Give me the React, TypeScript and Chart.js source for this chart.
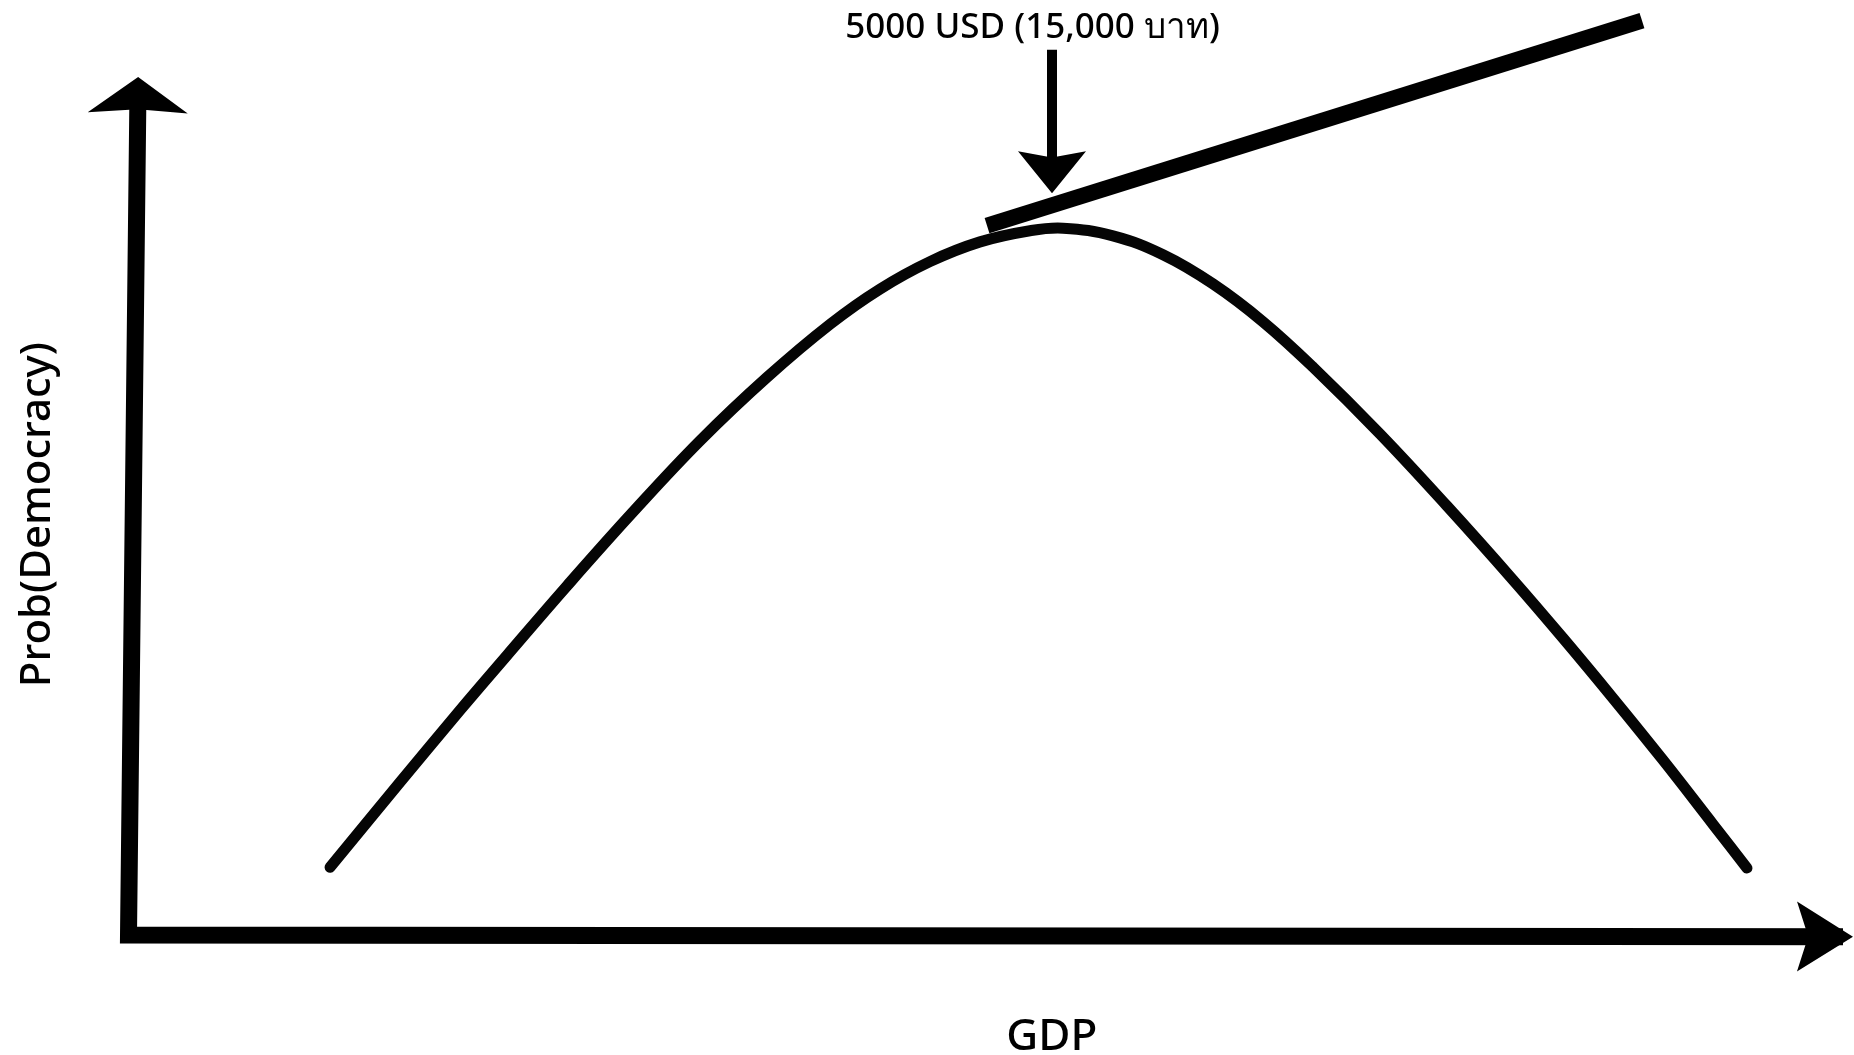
import React, { useEffect, useRef } from "react";
import { Chart, registerables } from "chart.js";

Chart.register(...registerables);

// ---- Data ----
// Bell-shaped curve: GDP (USD) vs probability of democracy
const CURVE_GDP = [1098, 1479, 1806, 2062, 2389, 2748, 3113, 3478, 3822, 4094, 4366, 4639, 4911, 5091, 5363, 5636, 5908, 6180, 6453, 6818, 7183, 7542, 7815, 8087, 8359, 8632, 8817];
const CURVE_PROB = [0.079, 0.178, 0.262, 0.326, 0.407, 0.493, 0.576, 0.650, 0.712, 0.753, 0.785, 0.808, 0.821, 0.824, 0.815, 0.793, 0.759, 0.715, 0.662, 0.584, 0.500, 0.414, 0.346, 0.276, 0.204, 0.129, 0.078];

// Axes polyline: top of y-axis -> origin -> right end of x-axis
const AXES_GDP = [52, 0, 9340];
const AXES_PROB = [0.991, 0, -0.002];

// Pointer arrow at the 5000 USD threshold
const POINTER_GDP = [5031, 5031];
const POINTER_PROB = [1.032, 0.874];

// Straight rising line from the peak
const RISE_GDP = [4677, 8245];
const RISE_PROB = [0.827, 1.066];

// Scale ranges
const X_RANGE = [-700, 9400];
const Y_RANGE = [-0.14, 1.09];

// Texts
const POINTER_LABEL = "5000 USD (15,000 บาท)";
const X_TITLE = "GDP";
const Y_TITLE = "Prob(Democracy)";

const zip = (xs: number[], ys: number[]) => xs.map((x, i) => ({ x, y: ys[i] }));

const arrowHeadPlugin = {
  id: "arrowHeads",
  afterDatasetsDraw(chart: any) {
    const ctx = chart.ctx;
    chart.data.datasets.forEach((ds: any, i: number) => {
      if (!ds.arrowHeads) return;
      const pts = chart.getDatasetMeta(i).data;
      const n = pts.length;
      ds.arrowHeads.forEach((h: any) => {
        const a = h.at === "end" ? pts[n - 2] : pts[1];
        const b = h.at === "end" ? pts[n - 1] : pts[0];
        const dx = b.x - a.x;
        const dy = b.y - a.y;
        const L = Math.hypot(dx, dy) || 1;
        const ux = dx / L;
        const uy = dy / L;
        const px = -uy;
        const py = ux;
        const tx = b.x + ux * h.over;
        const ty = b.y + uy * h.over;
        const bx = tx - ux * h.len;
        const by = ty - uy * h.len;
        const nx = tx - ux * h.len * h.notch;
        const ny = ty - uy * h.len * h.notch;
        ctx.save();
        ctx.fillStyle = "#000";
        ctx.beginPath();
        ctx.moveTo(tx, ty);
        ctx.lineTo(bx + px * h.half, by + py * h.half);
        ctx.lineTo(nx, ny);
        ctx.lineTo(bx - px * h.half, by - py * h.half);
        ctx.closePath();
        ctx.fill();
        ctx.restore();
      });
    });
  },
};

const textPlugin = {
  id: "labels",
  afterDraw(chart: any) {
    const ctx = chart.ctx;
    const xs = chart.scales.x;
    const ys = chart.scales.y;
    ctx.save();
    ctx.fillStyle = "#000";
    ctx.textAlign = "center";
    ctx.textBaseline = "alphabetic";
    // pointer label
    ctx.font = '500 35px "Noto Sans", "Open Sans", sans-serif';
    ctx.fillText(POINTER_LABEL, xs.getPixelForValue(4925), 38);
    // x title
    ctx.font = '500 44px "Noto Sans", "Open Sans", sans-serif';
    ctx.fillText(X_TITLE, xs.getPixelForValue(5030), 1050);
    // y title
    ctx.font = '500 42px "Noto Sans", "Open Sans", sans-serif';
    ctx.translate(50, ys.getPixelForValue(0.49));
    ctx.rotate(-Math.PI / 2);
    ctx.fillText(Y_TITLE, 0, 0);
    ctx.restore();
  },
};

export default function App() {
  const ref = useRef<HTMLCanvasElement | null>(null);

  useEffect(() => {
    if (!ref.current) return;
    const chart = new Chart(ref.current, {
      type: "scatter",
      data: {
        datasets: [
          {
            label: "curve",
            data: zip(CURVE_GDP, CURVE_PROB),
            showLine: true,
            borderColor: "#050505",
            borderWidth: 11,
            borderCapStyle: "round",
            borderJoinStyle: "round",
            tension: 0.4,
            pointRadius: 0,
            fill: false,
            clip: false,
          } as any,
          {
            label: "axes",
            data: zip(AXES_GDP, AXES_PROB),
            showLine: true,
            borderColor: "#000",
            borderWidth: 17,
            borderCapStyle: "butt",
            borderJoinStyle: "miter",
            tension: 0,
            pointRadius: 0,
            fill: false,
            clip: false,
            arrowHeads: [
              { at: "start", len: 36, half: 50, over: 8, notch: 0.9 },
              { at: "end", len: 56, half: 35, over: 10, notch: 0.8 },
            ],
          } as any,
          {
            label: "pointer",
            data: zip(POINTER_GDP, POINTER_PROB),
            showLine: true,
            borderColor: "#000",
            borderWidth: 10,
            borderCapStyle: "butt",
            tension: 0,
            pointRadius: 0,
            fill: false,
            clip: false,
            arrowHeads: [{ at: "end", len: 42, half: 34, over: 8, notch: 0.85 }],
          } as any,
          {
            label: "rise",
            data: zip(RISE_GDP, RISE_PROB),
            showLine: true,
            borderColor: "#000",
            borderWidth: 16,
            borderCapStyle: "butt",
            tension: 0,
            pointRadius: 0,
            fill: false,
            clip: false,
          } as any,
        ],
      },
      options: {
        responsive: false,
        animation: false,
        devicePixelRatio: 1,
        layout: { padding: 0 },
        plugins: {
          legend: { display: false },
          tooltip: { enabled: false },
          title: { display: false },
        },
        scales: {
          x: { type: "linear", display: false, min: X_RANGE[0], max: X_RANGE[1] },
          y: { type: "linear", display: false, min: Y_RANGE[0], max: Y_RANGE[1] },
        },
      },
      plugins: [arrowHeadPlugin, textPlugin],
    } as any);
    return () => chart.destroy();
  }, []);

  return (
    <div
      style={{
        position: "fixed",
        left: 0,
        top: 0,
        width: 1854,
        height: 1055,
        background: "#fff",
      }}
    >
      <canvas ref={ref} width={1854} height={1055} style={{ display: "block" }} />
    </div>
  );
}
